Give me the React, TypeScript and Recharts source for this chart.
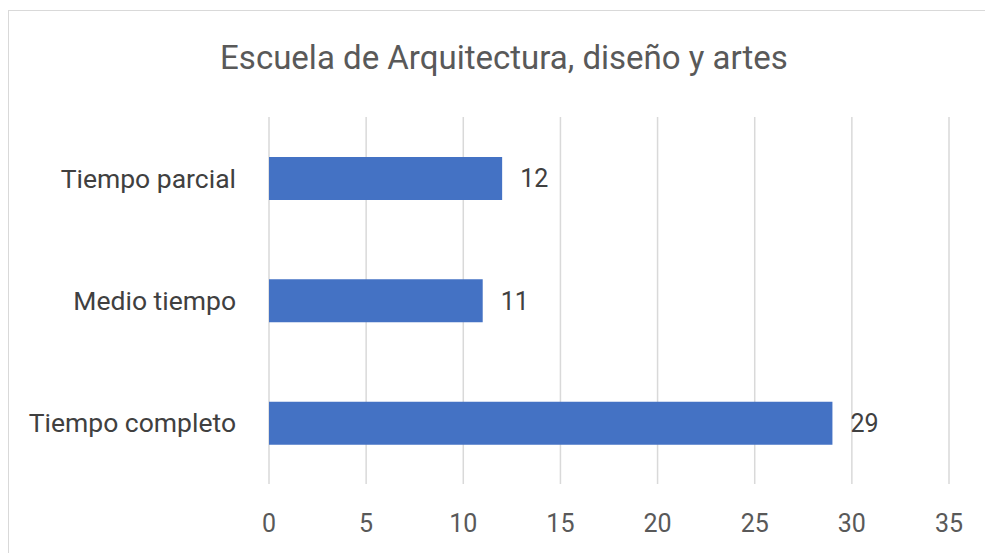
import { BarChart, Bar, XAxis, YAxis, CartesianGrid, LabelList } from 'recharts';

const categories = ['Tiempo parcial', 'Medio tiempo', 'Tiempo completo'];
const counts = [12, 11, 29];
const xTicks = [0, 5, 10, 15, 20, 25, 30, 35];

const data = categories.map((name, i) => ({ name, value: counts[i] }));

const FONT = 'Roboto, "Noto Sans", sans-serif';

export default function App() {
  return (
    <div
      style={{
        position: 'absolute',
        left: 8,
        top: 10,
        width: 977,
        height: 543,
        borderTop: '1.5px solid #D9D9D9',
        borderLeft: '1.5px solid #D9D9D9',
        background: '#fff',
        fontFamily: FONT,
      }}
    >
      <div
        style={{
          position: 'absolute',
          left: 0,
          width: 990,
          top: 28,
          textAlign: 'center',
          fontSize: 33,
          color: '#595959',
          lineHeight: '38px',
        }}
      >
        Escuela de Arquitectura, diseño y artes
      </div>
      <BarChart
        width={977}
        height={543}
        data={data}
        layout="vertical"
        margin={{ top: 106, right: 37, bottom: 20, left: 0 }}
        barCategoryGap="32%"
      >
        <CartesianGrid horizontal={false} stroke="#D9D9D9" strokeWidth={1.5} />
        <XAxis
          type="number"
          domain={[0, 35]}
          ticks={xTicks}
          axisLine={false}
          tickLine={false}
          tickSize={0}
          tickMargin={30}
          height={50}
          tick={{ fill: '#595959', fontSize: 25, fontFamily: FONT }}
        />
        <YAxis
          type="category"
          dataKey="name"
          width={260}
          axisLine={false}
          tickLine={false}
          tickSize={0}
          tickMargin={33}
          tick={{ fill: '#404040', fontSize: 26.5, fontFamily: FONT }}
        />
        <Bar dataKey="value" fill="#4472C4" barSize={43} isAnimationActive={false}>
          <LabelList
            dataKey="value"
            position="right"
            offset={18}
            fill="#404040"
            fontSize={25}
            fontFamily={FONT}
          />
        </Bar>
      </BarChart>
    </div>
  );
}
